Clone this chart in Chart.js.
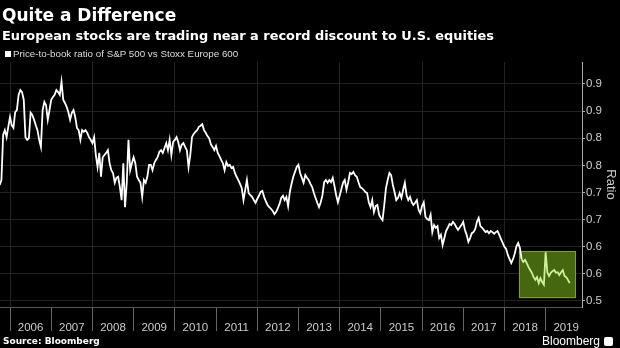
<!DOCTYPE html>
<html>
<head>
<meta charset="utf-8">
<script src="https://cdn.jsdelivr.net/npm/chart.js@4.4.1/dist/chart.umd.min.js"></script>
<style>
    html, body { margin: 0; padding: 0; background: #000; }
    #wrap { position: relative; width: 620px; height: 348px; overflow: hidden; background: #000; }
    #chart { position: absolute; left: 0; top: 0; }
    .txt { position: absolute; color: #fff; white-space: nowrap; line-height: 1; }
    #title { left: 2px; top: 5px; font: bold 17px "DejaVu Sans"; }
    #subtitle { left: 2px; top: 28px; font: bold 12.9px "DejaVu Sans"; }
    #legend { left: 5px; top: 48px; font: 9.8px "Liberation Sans"; color: #ddd; }
    #legend i { display: inline-block; width: 6px; height: 6px; background: #fff; margin-right: 2px; }
    #source { left: 3px; top: 336px; font: bold 9px "DejaVu Sans"; }
    #logo { left: 542px; top: 334px; font: 12px "Liberation Sans"; }
    #logo b { display: inline-block; width: 9px; height: 9px; background: #fff; border-radius: 2px; margin-left: 4px; vertical-align: -1px; }
</style>
</head>
<body>
<div id="wrap">
    <canvas id="chart" width="620" height="348"></canvas>
    <div class="txt" id="title">Quite a Difference</div>
    <div class="txt" id="subtitle">European stocks are trading near a record discount to U.S. equities</div>
    <div class="txt" id="legend"><i></i>Price-to-book ratio of S&amp;P 500 vs Stoxx Europe 600</div>
    <div class="txt" id="source">Source: Bloomberg</div>
    <div class="txt" id="logo">Bloomberg<b></b></div>
</div>
<script>
// twice-monthly readings, first one is Oct 2005
const START = 2005.75;
const STEP = 1 / 24;

const ratio = [
    0.714, 0.723, 0.806, 0.815, 0.802, 0.821,
    // 2006
    0.839, 0.824, 0.819, 0.848, 0.852, 0.880, 0.889, 0.885, 0.871, 0.802, 0.797, 0.800,
    0.847, 0.843, 0.834, 0.824, 0.815, 0.797, 0.784, 0.852, 0.867, 0.861, 0.834, 0.852,
    // 2007
    0.871, 0.876, 0.880, 0.889, 0.885, 0.880, 0.904, 0.871, 0.865, 0.858, 0.848, 0.834,
    0.847, 0.852, 0.839, 0.819, 0.815, 0.797, 0.815, 0.812, 0.815, 0.810, 0.802, 0.797,
    // 2008
    0.791, 0.802, 0.769, 0.747, 0.773, 0.729, 0.765, 0.769, 0.773, 0.778, 0.754, 0.741,
    0.736, 0.718, 0.727, 0.729, 0.710, 0.686, 0.754, 0.673, 0.718, 0.797, 0.741, 0.754,
    // 2009
    0.765, 0.754, 0.729, 0.723, 0.718, 0.692, 0.723, 0.718, 0.729, 0.751, 0.751, 0.741,
    0.754, 0.760, 0.765, 0.775, 0.778, 0.773, 0.782, 0.791, 0.778, 0.797, 0.769, 0.793,
    // 2010
    0.797, 0.802, 0.793, 0.778, 0.788, 0.791, 0.784, 0.778, 0.747, 0.769, 0.802, 0.808,
    0.812, 0.815, 0.821, 0.823, 0.826, 0.815, 0.810, 0.804, 0.800, 0.789, 0.784, 0.778,
    // 2011
    0.786, 0.773, 0.767, 0.760, 0.754, 0.741, 0.756, 0.749, 0.751, 0.745, 0.747, 0.736,
    0.729, 0.723, 0.716, 0.708, 0.686, 0.705, 0.723, 0.699, 0.695, 0.692, 0.686, 0.681,
    // 2012
    0.688, 0.694, 0.701, 0.703, 0.692, 0.684, 0.677, 0.673, 0.670, 0.666, 0.660, 0.664,
    0.671, 0.679, 0.690, 0.694, 0.686, 0.692, 0.675, 0.701, 0.716, 0.729, 0.738, 0.747,
    // 2013
    0.751, 0.736, 0.727, 0.718, 0.732, 0.727, 0.723, 0.716, 0.710, 0.699, 0.690, 0.681,
    0.673, 0.682, 0.695, 0.719, 0.723, 0.718, 0.723, 0.719, 0.727, 0.712, 0.695, 0.682,
    // 2014
    0.694, 0.706, 0.718, 0.723, 0.705, 0.719, 0.736, 0.734, 0.738, 0.732, 0.729, 0.719,
    0.710, 0.708, 0.705, 0.701, 0.699, 0.682, 0.673, 0.686, 0.664, 0.675, 0.677, 0.659,
    // 2015
    0.653, 0.649, 0.677, 0.708, 0.723, 0.736, 0.732, 0.714, 0.701, 0.686, 0.690, 0.699,
    0.690, 0.705, 0.718, 0.695, 0.686, 0.692, 0.682, 0.677, 0.681, 0.686, 0.668, 0.662,
    // 2016
    0.675, 0.682, 0.655, 0.651, 0.649, 0.659, 0.627, 0.640, 0.635, 0.638, 0.616, 0.622,
    0.603, 0.616, 0.629, 0.635, 0.642, 0.640, 0.646, 0.642, 0.636, 0.631, 0.636, 0.640,
    // 2017
    0.646, 0.631, 0.622, 0.609, 0.616, 0.625, 0.627, 0.633, 0.646, 0.653, 0.638, 0.635,
    0.631, 0.627, 0.629, 0.625, 0.629, 0.627, 0.624, 0.627, 0.629, 0.622, 0.614, 0.607,
    // 2018
    0.600, 0.596, 0.585, 0.577, 0.570, 0.577, 0.587, 0.601, 0.607, 0.598, 0.577, 0.572,
    0.576, 0.570, 0.563, 0.557, 0.552, 0.544, 0.539, 0.544, 0.533, 0.542, 0.535, 0.530,
    // 2019
    0.590, 0.553, 0.546, 0.552, 0.555, 0.557, 0.552, 0.553, 0.548, 0.553, 0.557, 0.546,
    0.544, 0.539, 0.533
];

// readings from here on are drawn in the highlighted colour (mid May 2018)
const HIGHLIGHT_FROM = 304;
const highlight = { from: 2018.35, to: 2019.74, low: 0.505, high: 0.592 };

const years = [2006, 2007, 2008, 2009, 2010, 2011, 2012, 2013, 2014, 2015, 2016, 2017, 2018, 2019];
const yTicks = [0.5, 0.55, 0.6, 0.65, 0.7, 0.75, 0.8, 0.85, 0.9];
const yTickLabels = ['0.5', '0.6', '0.6', '0.7', '0.7', '0.8', '0.8', '0.9', '0.9'];

const points = ratio.map((v, i) => ({ x: START + i * STEP, y: v }));

const highlightBox = {
    id: 'highlightBox',
    beforeDatasetsDraw(chart) {
        const { ctx, scales: { x, y } } = chart;
        const l = x.getPixelForValue(highlight.from);
        const r = x.getPixelForValue(highlight.to);
        const t = y.getPixelForValue(highlight.high);
        const b = y.getPixelForValue(highlight.low);
        ctx.save();
        ctx.fillStyle = '#46660f';
        ctx.fillRect(l, t, r - l, b - t);
        ctx.strokeStyle = '#7d9e34';
        ctx.lineWidth = 1;
        ctx.strokeRect(Math.round(l) + 0.5, Math.round(t) + 0.5, Math.round(r - l) - 1, Math.round(b - t) - 1);
        ctx.restore();
    }
};

new Chart(document.getElementById('chart'), {
    type: 'line',
    data: {
        datasets: [
            {
                data: points.slice(0, HIGHLIGHT_FROM + 1),
                borderColor: '#ffffff',
                borderWidth: 1.8,
                pointRadius: 0,
                tension: 0
            },
            {
                data: points.slice(HIGHLIGHT_FROM),
                borderColor: '#cdf29a',
                borderWidth: 1.8,
                pointRadius: 0,
                tension: 0
            }
        ]
    },
    options: {
        responsive: false,
        animation: false,
        devicePixelRatio: 1,
        layout: { padding: { top: 62, left: 0, right: 0, bottom: 15 } },
        plugins: {
            legend: { display: false },
            tooltip: { enabled: false }
        },
        scales: {
            x: {
                type: 'linear',
                min: 2005.757,
                max: 2019.883,
                afterBuildTicks: s => { s.ticks = years.map(v => ({ value: v })); },
                afterFit: s => { s.height = 26; s.paddingLeft = 0; s.paddingRight = 0; },
                grid: {
                    color: c => (c.tick && c.tick.value % 2 === 0) ? '#222222' : 'rgba(0,0,0,0)',
                    tickColor: '#666',
                    tickLength: 24
                },
                border: { display: true, color: '#555' },
                ticks: {
                    autoSkip: false,
                    maxRotation: 0,
                    minRotation: 0,
                    padding: -10,
                    labelOffset: 20.6,
                    color: '#cccccc',
                    font: { family: 'Liberation Sans', size: 11.5 },
                    callback: v => String(v)
                }
            },
            y: {
                position: 'right',
                min: 0.48894,
                max: 0.94055,
                afterBuildTicks: s => { s.ticks = yTicks.map(v => ({ value: v })); },
                afterFit: s => { s.width = 38; },
                grid: { color: '#222222', tickColor: '#aaa', tickLength: 3 },
                border: { display: true, color: '#aaa' },
                ticks: {
                    padding: 1,
                    color: '#cccccc',
                    font: { family: 'Liberation Sans', size: 11.5 },
                    callback: (v, i) => yTickLabels[i]
                },
                title: {
                    display: true,
                    text: 'Ratio',
                    color: '#cccccc',
                    font: { family: 'Liberation Sans', size: 13 },
                    padding: { top: 2, bottom: 0 }
                }
            }
        }
    },
    plugins: [highlightBox]
});
</script>
</body>
</html>
